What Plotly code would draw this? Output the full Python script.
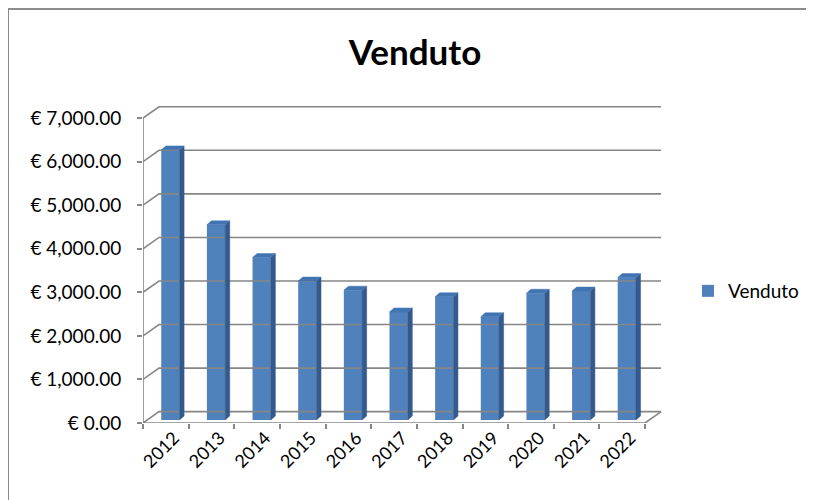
import plotly.graph_objects as go

# ---- data ----
years = ["2012", "2013", "2014", "2015", "2016", "2017", "2018", "2019", "2020", "2021", "2022"]
venduto = [6200, 4480, 3730, 3190, 2980, 2480, 2830, 2370, 2910, 2960, 3270]
y_tick_vals = [0, 1000, 2000, 3000, 4000, 5000, 6000, 7000]
y_tick_text = ["€ 0.00", "€ 1,000.00", "€ 2,000.00", "€ 3,000.00", "€ 4,000.00",
               "€ 5,000.00", "€ 6,000.00", "€ 7,000.00"]

# ---- faux-3D geometry (style parameters) ----
WALL_DX, WALL_DY = 0.35, 260      # depth of the floor / walls
BAR_SHIFT, BAR_BASE = 0.10, 70    # bar placement inside depth
BAR_W = 0.40
BAR_DX, BAR_DY = 0.10, 90         # bar depth
FRONT = "#4F81BD"
SIDE = "#34598C"
TOP = "#4274B2"
GRID = "#868686"
n = len(years)
xs = list(range(n))
x_left, x_right = -0.5, n - 0.5

fig = go.Figure()

# gridlines on back wall + side wall
gx, gy = [], []
for v in y_tick_vals:
    gx += [x_left, x_left + WALL_DX, x_right + WALL_DX, None]
    gy += [v, v + WALL_DY, v + WALL_DY, None]
# floor front edge and right edge
gx += [x_left, x_right, x_right + WALL_DX, None]
gy += [0, 0, WALL_DY, None]
# front vertical axis
gx += [x_left, x_left, None]
gy += [0, y_tick_vals[-1], None]
fig.add_trace(go.Scatter(x=gx, y=gy, mode="lines", line=dict(color=GRID, width=1.6),
                         hoverinfo="skip", showlegend=False))

# side faces
sx, sy = [], []
for i, v in zip(xs, venduto):
    xr = i + BAR_SHIFT + BAR_W / 2
    sx += [xr, xr, xr + BAR_DX, xr + BAR_DX, xr, None]
    sy += [BAR_BASE, BAR_BASE + v, BAR_BASE + v + BAR_DY, BAR_BASE + BAR_DY, BAR_BASE, None]
fig.add_trace(go.Scatter(x=sx, y=sy, mode="lines", fill="toself", fillcolor=SIDE,
                         line=dict(color=SIDE, width=0.5), hoverinfo="skip", showlegend=False))
# top faces
tx, ty = [], []
for i, v in zip(xs, venduto):
    xl = i + BAR_SHIFT - BAR_W / 2
    xr = i + BAR_SHIFT + BAR_W / 2
    t = BAR_BASE + v
    tx += [xl, xr, xr + BAR_DX, xl + BAR_DX, xl, None]
    ty += [t, t, t + BAR_DY, t + BAR_DY, t, None]
fig.add_trace(go.Scatter(x=tx, y=ty, mode="lines", fill="toself", fillcolor=TOP,
                         line=dict(color=TOP, width=0.5), hoverinfo="skip", showlegend=False))

# front faces
fig.add_trace(go.Bar(x=[i + BAR_SHIFT for i in xs], y=venduto, base=BAR_BASE, width=BAR_W,
                     name="Venduto", marker=dict(color=FRONT, line=dict(width=0)),
                     customdata=years,
                     hovertemplate="%{customdata}: € %{y:,.2f}<extra></extra>"))

FONT = "Lato, 'Open Sans', sans-serif"
OFF = 8  # page body margin
W, H = 814, 500
L = 143 - OFF
T = 105 - OFF
B = H - (423 - OFF)
R = W - (662 - OFF)
pw, ph = W - L - R, H - T - B

def px2paper_x(px):
    return (px - OFF - L) / pw

def px2paper_y(py):
    return 1 - (py - OFF - T) / ph

fig.update_layout(
    width=W, height=H,
    margin=dict(l=L, r=R, t=T, b=B),
    paper_bgcolor="white", plot_bgcolor="white",
    font=dict(family=FONT, size=19, color="#000000"),
    title=dict(text="<b>Venduto</b>", x=(415 - OFF) / W, xref="container", xanchor="center",
               y=1 - (53 - OFF) / H, yref="container", yanchor="middle",
               font=dict(family=FONT, size=35, color="#000000")),
    showlegend=True,
    legend=dict(x=px2paper_x(688), y=px2paper_y(291), xanchor="left", yanchor="middle",
                font=dict(family=FONT, size=19), itemwidth=30, bgcolor="rgba(0,0,0,0)"),
    xaxis=dict(range=[x_left, x_right + WALL_DX + 0.02], showgrid=False, zeroline=False,
               showline=False, tickvals=[i + 0.18 for i in xs], ticktext=years,
               tickangle=-45, ticks="", tickfont=dict(family=FONT, size=18),
               minor=dict(ticks="outside", tick0=-0.5, dtick=1, ticklen=5,
                          tickcolor=GRID, tickwidth=1.6, showgrid=False),
               fixedrange=True, automargin=False),
    yaxis=dict(range=[0, 7300], showgrid=False, zeroline=False, showline=False,
               tickvals=y_tick_vals, ticktext=y_tick_text, ticks="outside", ticklen=5,
               tickcolor=GRID, tickwidth=1.6, ticklabelstandoff=12,
               tickfont=dict(family=FONT, size=19), fixedrange=True, automargin=False),
    bargap=0.6,
    shapes=[dict(type="rect", xref="paper", yref="paper",
                 x0=px2paper_x(8), x1=px2paper_x(840), y0=px2paper_y(530), y1=px2paper_y(9),
                 line=dict(color="#8C8C8C", width=2), fillcolor="rgba(0,0,0,0)", layer="below")],
)

fig.write_html("out.html")
